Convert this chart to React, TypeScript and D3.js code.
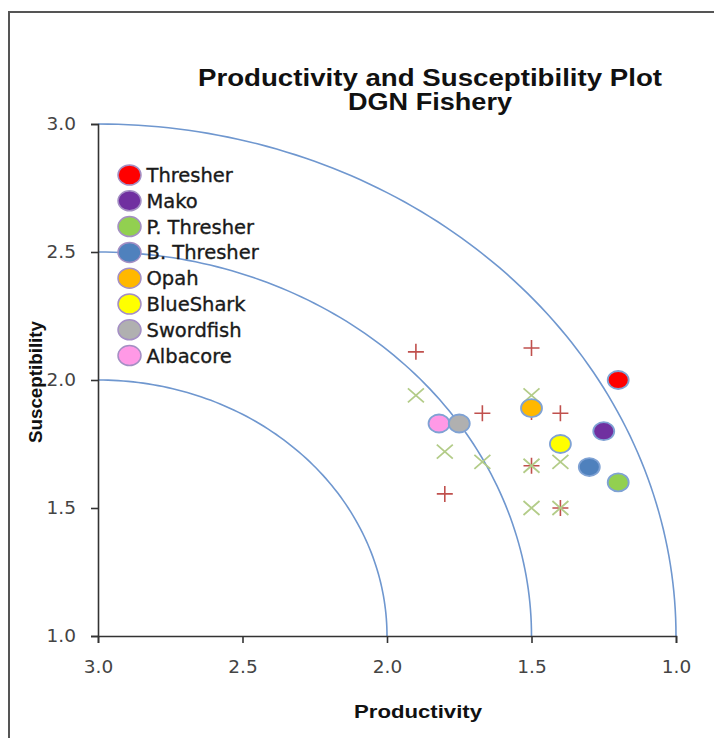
import React, { useEffect, useRef } from 'react'
import * as d3 from 'd3'

const species = ['Thresher', 'Mako', 'P. Thresher', 'B. Thresher', 'Opah', 'BlueShark', 'Swordfish', 'Albacore']
const speciesColors = ['#ff0000', '#7030a0', '#92d050', '#4f81bd', '#ffb800', '#ffff00', '#b0b0b0', '#ff99e6']
const productivity = [1.2, 1.25, 1.2, 1.3, 1.5, 1.4, 1.75, 1.82]
const susceptibility = [2.0, 1.8, 1.6, 1.66, 1.89, 1.75, 1.83, 1.83]

const plusX = [1.9, 1.5, 1.67, 1.4, 1.8, 1.5, 1.4, 1.5]
const plusY = [2.11, 2.125, 1.87, 1.87, 1.555, 1.665, 1.5, 1.875]
const crossX = [1.9, 1.5, 1.8, 1.67, 1.5, 1.4, 1.5, 1.4]
const crossY = [1.94, 1.94, 1.72, 1.68, 1.665, 1.68, 1.5, 1.5]

const arcRadii = [1, 1.5, 2]
const xTicks = [3.0, 2.5, 2.0, 1.5, 1.0]
const yTicks = [1.0, 1.5, 2.0, 2.5, 3.0]

export default function App(): React.ReactElement {
  const chartRef = useRef<HTMLDivElement>(null)

  useEffect(() => {
    const width = 714
    const height = 738
    const left = 98
    const right = 676
    const top = 124
    const bottom = 636
    const sans = '"Liberation Sans",Arial,sans-serif'
    const wide = '"DejaVu Sans",sans-serif'

    const x = d3.scaleLinear().domain([3, 1]).range([left, right])
    const y = d3.scaleLinear().domain([1, 3]).range([bottom, top])

    d3.select(chartRef.current).select('svg').remove()

    const svg = d3
      .select(chartRef.current)
      .append('svg')
      .attr('width', width)
      .attr('height', height)
      .attr('style', `position:absolute;left:0;top:0;background:#fff;font-family:${sans};`)

    // outer frame
    svg
      .append('path')
      .attr('d', `M9,${height} L9,12 L${width},12`)
      .attr('fill', 'none')
      .attr('stroke', '#555')
      .attr('stroke-width', 2)

    // title
    svg
      .append('text')
      .attr('x', 430)
      .attr('y', 86)
      .attr('text-anchor', 'middle')
      .attr('font-weight', 'bold')
      .attr('font-size', 23)
      .attr('textLength', 464)
      .attr('lengthAdjust', 'spacingAndGlyphs')
      .attr('fill', '#111')
      .text('Productivity and Susceptibility Plot')
    svg
      .append('text')
      .attr('x', 430)
      .attr('y', 110)
      .attr('text-anchor', 'middle')
      .attr('font-weight', 'bold')
      .attr('font-size', 23)
      .attr('textLength', 164)
      .attr('lengthAdjust', 'spacingAndGlyphs')
      .attr('fill', '#111')
      .text('DGN Fishery')

    // risk arcs
    const angles = d3.range(0, 91).map((d) => (d * Math.PI) / 180)
    arcRadii.forEach((r) => {
      const arcLine = d3
        .line<number>()
        .x((t) => x(3 - r * Math.cos(t)))
        .y((t) => y(1 + r * Math.sin(t)))
      svg
        .append('path')
        .attr('d', arcLine(angles))
        .attr('fill', 'none')
        .attr('stroke', '#6f97cf')
        .attr('stroke-width', 1.6)
    })

    // axes
    const xAxis = svg
      .append('g')
      .attr('transform', `translate(0,${bottom})`)
      .call(d3.axisBottom(x).tickValues(xTicks).tickFormat(d3.format('.1f')).tickSize(7).tickPadding(17))
    xAxis.select('.domain').attr('stroke', '#333').attr('stroke-width', 1.6)
    xAxis.selectAll('line').attr('stroke', '#333').attr('stroke-width', 1.6)
    xAxis.selectAll('text').attr('font-size', 18.5).attr('fill', '#444').attr('font-family', wide)

    const yAxis = svg
      .append('g')
      .attr('transform', `translate(${left},0)`)
      .call(d3.axisLeft(y).tickValues(yTicks).tickFormat(d3.format('.1f')).tickSize(7).tickPadding(15))
    yAxis.select('.domain').attr('stroke', '#333').attr('stroke-width', 1.6)
    yAxis.selectAll('line').attr('stroke', '#333').attr('stroke-width', 1.6)
    yAxis.selectAll('text').attr('font-size', 18.5).attr('fill', '#444').attr('font-family', wide)

    svg
      .append('text')
      .attr('x', 418)
      .attr('y', 718)
      .attr('text-anchor', 'middle')
      .attr('font-weight', 'bold')
      .attr('font-size', 19)
      .attr('textLength', 128)
      .attr('lengthAdjust', 'spacingAndGlyphs')
      .attr('fill', '#111')
      .text('Productivity')
    svg
      .append('text')
      .attr('transform', 'translate(42,382) rotate(-90)')
      .attr('text-anchor', 'middle')
      .attr('font-weight', 'bold')
      .attr('font-size', 19)
      .attr('textLength', 122)
      .attr('lengthAdjust', 'spacingAndGlyphs')
      .attr('fill', '#111')
      .text('Susceptibility')

    // plus markers
    svg
      .append('g')
      .attr('stroke', '#c0504d')
      .attr('stroke-width', 1.6)
      .selectAll('path')
      .data(plusX.map((v, i) => [v, plusY[i]]))
      .join('path')
      .attr('d', (d) => {
        const cx = x(d[0])
        const cy = y(d[1])
        return `M${cx - 8},${cy}H${cx + 8}M${cx},${cy - 8}V${cy + 8}`
      })

    // cross markers
    svg
      .append('g')
      .attr('stroke', '#b3cc88')
      .attr('stroke-width', 1.8)
      .selectAll('path')
      .data(crossX.map((v, i) => [v, crossY[i]]))
      .join('path')
      .attr('d', (d) => {
        const cx = x(d[0])
        const cy = y(d[1])
        return `M${cx - 8},${cy - 7}L${cx + 8},${cy + 7}M${cx - 8},${cy + 7}L${cx + 8},${cy - 7}`
      })

    // species points, reversed so Swordfish sits over Albacore
    const order = d3.range(species.length).reverse()
    svg
      .append('g')
      .selectAll('ellipse')
      .data(order)
      .join('ellipse')
      .attr('cx', (i) => x(productivity[i]))
      .attr('cy', (i) => y(susceptibility[i]))
      .attr('rx', 10.5)
      .attr('ry', 9)
      .attr('fill', (i) => speciesColors[i])
      .attr('stroke', '#7fa2d4')
      .attr('stroke-width', 1.8)

    // legend
    const legend = svg
      .append('g')
      .selectAll('g')
      .data(species)
      .join('g')
      .attr('transform', (d, i) => `translate(129.5,${175 + i * 25.8})`)
    legend
      .append('ellipse')
      .attr('rx', 11.5)
      .attr('ry', 10)
      .attr('fill', (d, i) => speciesColors[i])
      .attr('stroke', '#a48fc4')
      .attr('stroke-width', 1.5)
    legend
      .append('text')
      .attr('x', 17)
      .attr('dy', '0.36em')
      .attr('font-family', wide)
      .attr('font-size', 19.5)
      .attr('fill', '#1a1a1a')
      .attr('stroke', '#1a1a1a')
      .attr('stroke-width', 0.35)
      .text((d) => d)
  }, [])

  return <div ref={chartRef}></div>
}
